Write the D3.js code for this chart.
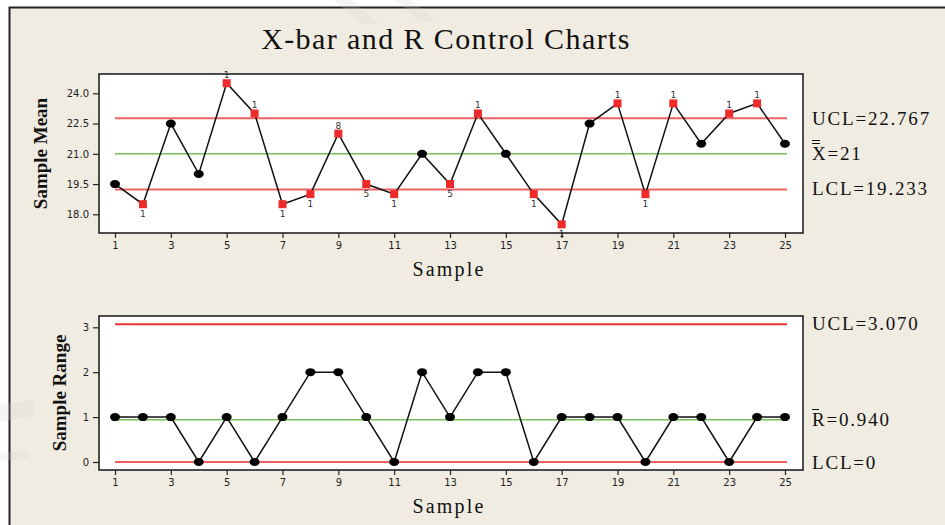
<!DOCTYPE html>
<html>
<head>
<meta charset="utf-8">
<script src="https://cdn.jsdelivr.net/npm/d3@7"></script>
<style>
  body { margin: 0; background: #ffffff; }
  svg { display: block; }
</style>
</head>
<body>
<svg id="chart" width="945" height="525"></svg>
<script>
// sample numbers
const samples = [1, 2, 3, 4, 5, 6, 7, 8, 9, 10, 11, 12, 13, 14, 15, 16, 17, 18, 19, 20, 21, 22, 23, 24, 25];
// X-bar values
const sampleMeans = [19.5, 18.5, 22.5, 20.0, 24.5, 23.0, 18.5, 19.0, 22.0, 19.5, 19.0, 21.0, 19.5, 23.0, 21.0, 19.0, 17.5, 22.5, 23.5, 19.0, 23.5, 21.5, 23.0, 23.5, 21.5];
// failed test number shown next to a point ("" = in control)
const meanFlags = ["", "1", "", "", "1", "1", "1", "1", "8", "5", "1", "", "5", "1", "", "1", "1", "", "1", "1", "1", "", "1", "1", ""];
// R values
const sampleRanges = [1, 1, 1, 0, 1, 0, 1, 2, 2, 1, 0, 2, 1, 2, 2, 0, 1, 1, 1, 0, 1, 1, 0, 1, 1];

const meanLimits = [22.767, 21, 19.233];   // UCL, centre, LCL
const rangeLimits = [3.070, 0.940, 0];
const meanLimitLabels = ["UCL=22.767", "X=21", "LCL=19.233"];
const rangeLimitLabels = ["UCL=3.070", "R=0.940", "LCL=0"];

const xTicks = [1, 3, 5, 7, 9, 11, 13, 15, 17, 19, 21, 23, 25];
const meanTicks = [18.0, 19.5, 21.0, 22.5, 24.0];
const rangeTicks = [0, 1, 2, 3];

const W = 945, H = 525;
const bg = "#f0ece2";
const red = "#ee6262";
const green = "#78c05a";
const serif = "'Liberation Serif', 'Times New Roman', serif";
const sans = "'DejaVu Sans', Verdana, sans-serif";

const svg = d3.select("#chart");

// outer frame
svg.append("rect").attr("x", 0).attr("y", 0).attr("width", W).attr("height", H).attr("fill", "#ffffff");
svg.append("rect").attr("x", 9.5).attr("y", 7.5).attr("width", W + 20).attr("height", H + 20)
  .attr("fill", bg).attr("stroke", "#222").attr("stroke-width", 2);

// faint watermark strokes
const wm = svg.append("g").attr("fill", "#cfcfcf").attr("opacity", 0.2);
wm.append("path").attr("d", "M334,0 L352,0 L380,24 L362,24 Z");
wm.append("path").attr("d", "M396,0 L412,0 L436,22 L420,22 Z");
wm.append("path").attr("d", "M0,404 L34,400 L34,416 L0,422 Z");
wm.append("path").attr("d", "M0,453 L28,450 L28,458 L0,461 Z");

// title
svg.append("text").attr("x", 446).attr("y", 49).attr("text-anchor", "middle")
  .attr("font-family", serif).attr("font-size", 30).attr("letter-spacing", 1.4)
  .attr("fill", "#111").text("X-bar and R Control Charts");

const x = d3.scaleLinear().domain([1, 25]).range([115, 785]);

function panel(opts) {
  const g = svg.append("g");
  const y = d3.scaleLinear().domain(opts.yDomain).range(opts.yRange);
  const box = opts.box;

  g.append("rect").attr("x", box.left).attr("y", box.top)
    .attr("width", box.right - box.left).attr("height", box.bottom - box.top)
    .attr("fill", "#ffffff").attr("stroke", "#222").attr("stroke-width", 1.6);

  // y axis
  const yAxis = d3.axisLeft(y).tickValues(opts.yTicks).tickFormat(opts.yFormat)
    .tickSize(6).tickPadding(4);
  const ya = g.append("g").attr("transform", `translate(${box.left},0)`).call(yAxis);
  ya.select(".domain").remove();
  ya.selectAll("line").attr("stroke", "#222").attr("stroke-width", 1.2);
  ya.selectAll("text").attr("font-family", sans).attr("font-size", 10).attr("fill", "#222");

  // x axis
  const xAxis = d3.axisBottom(x).tickValues(xTicks).tickFormat(d3.format("d"))
    .tickSize(5).tickPadding(4);
  const xa = g.append("g").attr("transform", `translate(0,${box.bottom})`).call(xAxis);
  xa.select(".domain").remove();
  xa.selectAll("line").attr("stroke", "#222").attr("stroke-width", 1.2);
  xa.selectAll("text").attr("font-family", sans).attr("font-size", 10).attr("fill", "#222");

  g.append("text").attr("x", 449).attr("y", opts.xTitleY).attr("text-anchor", "middle")
    .attr("font-family", serif).attr("font-size", 20).attr("letter-spacing", 2.2)
    .attr("fill", "#111").text("Sample");

  g.append("text").attr("transform", `translate(${opts.yTitleX},${(box.top + box.bottom) / 2}) rotate(-90)`)
    .attr("text-anchor", "middle").attr("font-family", serif).attr("font-weight", "bold")
    .attr("font-size", 19).attr("fill", "#111").text(opts.yTitle);

  // control limit lines
  const limColors = opts.limitColors;
  g.selectAll("line.limit").data(opts.limits).join("line").attr("class", "limit")
    .attr("x1", x(1)).attr("x2", x(25) + 2)
    .attr("y1", d => y(d)).attr("y2", d => y(d))
    .attr("stroke", (d, i) => limColors[i])
    .attr("stroke-width", (d, i) => i === 1 ? 1.6 : 2);

  // limit labels
  g.selectAll("text.limlab").data(opts.limitLabels).join("text").attr("class", "limlab")
    .attr("x", 812).attr("y", (d, i) => opts.labelY[i])
    .attr("font-family", serif).attr("font-size", 19).attr("letter-spacing", 1.8)
    .attr("fill", "#111").text(d => d);

  // data line
  const pts = samples.map((s, i) => ({ s, v: opts.values[i], flag: opts.flags ? opts.flags[i] : "" }));
  g.append("path").datum(pts)
    .attr("d", d3.line().x(d => x(d.s)).y(d => y(d.v)))
    .attr("fill", "none").attr("stroke", "#111").attr("stroke-width", 1.5);

  g.selectAll("ellipse.pt").data(pts.filter(d => !d.flag)).join("ellipse").attr("class", "pt")
    .attr("cx", d => x(d.s)).attr("cy", d => y(d.v)).attr("rx", 5).attr("ry", 4)
    .attr("fill", "#000");

  const flagged = pts.filter(d => d.flag);
  g.selectAll("rect.flag").data(flagged).join("rect").attr("class", "flag")
    .attr("x", d => x(d.s) - 4).attr("y", d => y(d.v) - 4).attr("width", 8).attr("height", 8)
    .attr("fill", "#ee2a2a");

  g.selectAll("text.flaglab").data(flagged).join("text").attr("class", "flaglab")
    .attr("x", d => x(d.s)).attr("y", d => d.v > opts.limits[1] ? y(d.v) - 5 : y(d.v) + 13)
    .attr("text-anchor", "middle").attr("font-family", sans).attr("font-size", 9)
    .attr("fill", "#333").text(d => d.flag);

  return { g, y };
}

panel({
  box: { left: 99, right: 803, top: 74, bottom: 233 },
  yDomain: [18, 24], yRange: [214.3, 93.3],
  yTicks: meanTicks, yFormat: d3.format(".1f"),
  yTitle: "Sample Mean", yTitleX: 47,
  xTitleY: 276,
  values: sampleMeans, flags: meanFlags,
  limits: meanLimits, limitColors: [red, green, red],
  limitLabels: meanLimitLabels, labelY: [125, 160, 195]
});

panel({
  box: { left: 99, right: 803, top: 316, bottom: 470 },
  yDomain: [0, 3], yRange: [462, 327.3],
  yTicks: rangeTicks, yFormat: d3.format("d"),
  yTitle: "Sample Range", yTitleX: 66,
  xTitleY: 513,
  values: sampleRanges, flags: null,
  limits: rangeLimits, limitColors: ["#f03434", green, red],
  limitLabels: rangeLimitLabels, labelY: [330, 426, 469]
});

// bars over X and R in the centre-line labels
const bars = svg.append("g").attr("stroke", "#111").attr("stroke-width", 1);
bars.append("line").attr("x1", 812).attr("x2", 820).attr("y1", 140.5).attr("y2", 140.5);
bars.append("line").attr("x1", 812).attr("x2", 820).attr("y1", 143.5).attr("y2", 143.5);
bars.append("line").attr("x1", 812).attr("x2", 819).attr("y1", 409.5).attr("y2", 409.5);
</script>
</body>
</html>
